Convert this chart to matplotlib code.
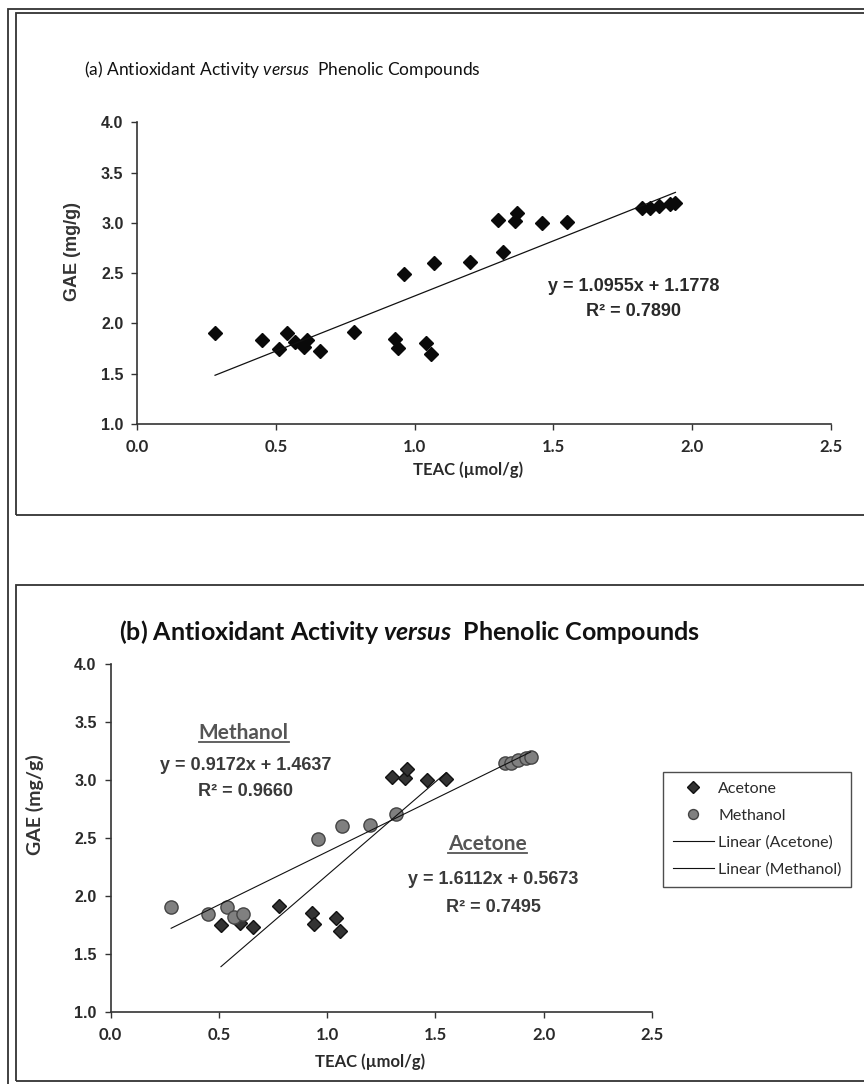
import matplotlib
matplotlib.use("Agg")
import matplotlib.pyplot as plt
from matplotlib.patches import Rectangle
from matplotlib.lines import Line2D
import numpy as np

# TEAC (umol/g) vs GAE (mg/g)
acetone_x = [0.51, 0.60, 0.66, 0.78, 0.93, 0.94, 1.04, 1.06, 1.30, 1.36, 1.37, 1.46, 1.55]
acetone_y = [1.75, 1.77, 1.73, 1.91, 1.85, 1.76, 1.81, 1.70, 3.03, 3.02, 3.10, 3.00, 3.01]
methanol_x = [0.28, 0.45, 0.54, 0.57, 0.61, 0.96, 1.07, 1.20, 1.32, 1.82, 1.85, 1.88, 1.92, 1.94]
methanol_y = [1.90, 1.84, 1.90, 1.82, 1.84, 2.49, 2.60, 2.61, 2.71, 3.15, 3.15, 3.17, 3.19, 3.20]

# trendline coefficients (slope, intercept) and R^2 as printed on the chart
fit_all = (1.0955, 1.1778)
r2_all = 0.7890
fit_acetone = (1.6112, 0.5673)
r2_acetone = 0.7495
fit_methanol = (0.9172, 1.4637)
r2_methanol = 0.9660

x_ticks = [0.0, 0.5, 1.0, 1.5, 2.0, 2.5]
y_ticks = [1.0, 1.5, 2.0, 2.5, 3.0, 3.5, 4.0]

plt.rcParams["mathtext.fontset"] = "custom"
plt.rcParams["mathtext.rm"] = "Lato"
plt.rcParams["mathtext.it"] = "Lato:italic"
plt.rcParams["mathtext.bfit"] = "Lato:italic:bold"

W, H = 864, 1084
fig = plt.figure(figsize=(W / 100, H / 100), dpi=100)

ink = "#2a2a2a"
arial = "Liberation Sans"
calibri = "Lato"


def px_box(x0, y0, x1, y1):
    # pixel box (top-left origin) -> figure fraction rect
    return [x0 / W, 1 - y1 / H, (x1 - x0) / W, (y1 - y0) / H]


def fit_line(xs, coef):
    xs = np.array([min(xs), max(xs)])
    return xs, coef[0] * xs + coef[1]


def style_axes(ax, ylabel_font, ylabel_size):
    for s in ["top", "right"]:
        ax.spines[s].set_visible(False)
    for s in ["left", "bottom"]:
        ax.spines[s].set_color("#333333")
        ax.spines[s].set_linewidth(1.2)
    ax.set_xlim(0, 2.5)
    ax.set_ylim(1, 4)
    ax.tick_params(direction="out", length=4, width=1, colors="#333333")
    ax.tick_params(axis="y", pad=6)
    ax.tick_params(axis="x", pad=7)
    ax.set_xticks(x_ticks, labels=[f"{v:.1f}" for v in x_ticks],
                  fontfamily=calibri, fontweight="bold", fontsize=12, color=ink)
    ax.set_yticks(y_ticks, labels=[f"{v:.1f}" for v in y_ticks],
                  fontfamily=arial, fontweight="bold", fontsize=11.5, color=ink)
    ax.set_ylabel("GAE (mg/g)", fontfamily=ylabel_font, fontweight="bold",
                  fontsize=ylabel_size, color="#333333", va="center", ha="center")
    ax.set_xlabel("TEAC (\u00b5mol/g)", fontfamily=calibri, fontweight="bold",
                  fontsize=12, color=ink, va="center", ha="center")


# frames around the figure and each panel
def frame(x0, y0, x1, y1):
    b = px_box(x0, y0, x1, y1)
    fig.patches.append(Rectangle(b[:2], b[2], b[3], transform=fig.transFigure,
                                 fill=False, edgecolor="#333333", linewidth=1.3))


frame(8, 9, 900, 1100)
frame(16, 13, 900, 515)
frame(16, 585, 900, 1081)

# ---- panel (a): all extracts pooled
ax1 = fig.add_axes(px_box(137.4, 122.3, 830.7, 424))
all_x = acetone_x + methanol_x
all_y = acetone_y + methanol_y
ax1.plot(all_x, all_y, linestyle="none", marker="D", markersize=7.5,
         color="#0a0a0a", markeredgecolor="#0a0a0a", zorder=3)
lx, ly = fit_line(all_x, fit_all)
ax1.plot(lx, ly, color="#111111", linewidth=0.9, zorder=4)
style_axes(ax1, arial, 13)
ax1.yaxis.set_label_coords(-0.093, 0.571)
ax1.xaxis.set_label_coords(0.477, -0.152)
eq_kw = dict(fontfamily=arial, fontweight="bold", fontsize=13, ha="center", va="center")
ax1.text(1.79, 2.372, f"y = {fit_all[0]:.4f}x + {fit_all[1]:.4f}", color=ink, **eq_kw)
ax1.text(1.79, 2.114, f"R\u00b2 = {r2_all:.4f}", color=ink, **eq_kw)
fig.text(282 / W, 1 - 69 / H, r"(a) Antioxidant Activity $\mathit{versus}$  Phenolic Compounds",
         fontfamily=calibri, fontsize=12.5, color="#111111", ha="center", va="center")

# ---- panel (b): acetone and methanol separately
ax2 = fig.add_axes(px_box(110.5, 664.3, 652, 1011.7))
ax2.plot(acetone_x, acetone_y, linestyle="none", marker="D", markersize=7.5,
         color="#333333", markeredgecolor="#111111", markeredgewidth=1,
         label="Acetone", zorder=3)
ax2.plot(methanol_x, methanol_y, linestyle="none", marker="o", markersize=9.5,
         color="#808080", markeredgecolor="#444444", markeredgewidth=1,
         label="Methanol", zorder=3)
lx, ly = fit_line(acetone_x, fit_acetone)
ax2.plot(lx, ly, color="#111111", linewidth=0.8, label="Linear (Acetone)", zorder=4)
lx, ly = fit_line(methanol_x, fit_methanol)
ax2.plot(lx, ly, color="#111111", linewidth=0.8, label="Linear (Methanol)", zorder=4)
style_axes(ax2, calibri, 14)
ax2.yaxis.set_label_coords(-0.139, 0.595)
ax2.xaxis.set_label_coords(0.479, -0.145)

grey = "#555555"
eq2 = "#3a3a3a"
m_lbl = ax2.text(0.615, 3.409, "Methanol", fontfamily=calibri, fontweight="bold",
                 fontsize=15, color=grey, ha="center", va="center")
ax2.text(0.623, 3.122, f"y = {fit_methanol[0]:.4f}x + {fit_methanol[1]:.4f}", color=eq2, **eq_kw)
ax2.text(0.623, 2.90, f"R\u00b2 = {r2_methanol:.4f}", color=eq2, **eq_kw)
a_lbl = ax2.text(1.741, 2.448, "Acetone", fontfamily=calibri, fontweight="bold",
                 fontsize=15, color=grey, ha="center", va="center")
ax2.text(1.768, 2.138, f"y = {fit_acetone[0]:.4f}x + {fit_acetone[1]:.4f}", color=eq2, **eq_kw)
ax2.text(1.768, 1.897, f"R\u00b2 = {r2_acetone:.4f}", color=eq2, **eq_kw)
fig.text(409 / W, 1 - 632 / H, r"(b) Antioxidant Activity $\mathbfit{versus}$  Phenolic Compounds",
         fontfamily=calibri, fontweight="bold", fontsize=18, color="#111111",
         ha="center", va="center")

leg = fig.legend(handles=ax2.get_lines(), loc="upper left",
                 bbox_to_anchor=(663 / W, 1 - 772 / H), frameon=True, fancybox=False,
                 edgecolor="#222222", prop={"family": calibri, "size": 11.5},
                 handlelength=2.6, handletextpad=0.25, labelspacing=0.8,
                 borderpad=0.6, borderaxespad=0, markerscale=0.75)
leg.get_frame().set_linewidth(1.0)
for t in leg.get_texts():
    t.set_color(ink)

# underline the solvent labels
fig.canvas.draw()
r = fig.canvas.get_renderer()
inv = fig.transFigure.inverted()
for lbl in (m_lbl, a_lbl):
    bb = lbl.get_window_extent(r)
    (x0, y0), (x1, _) = inv.transform([(bb.x0, bb.y0 + 1), (bb.x1, bb.y0 + 1)])
    fig.add_artist(Line2D([x0, x1], [y0, y0], transform=fig.transFigure,
                          color=grey, linewidth=1.3))

fig.savefig("out.png", dpi=100)
